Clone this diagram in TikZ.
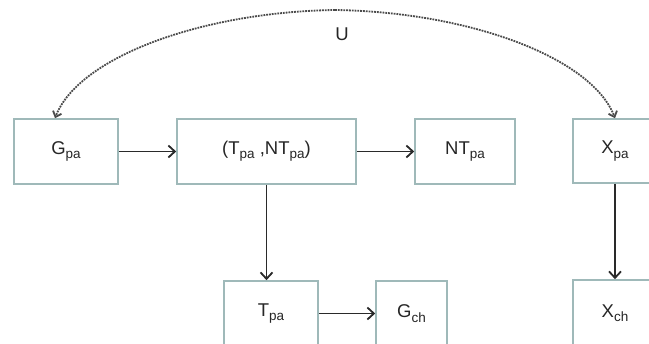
\documentclass[tikz,border=0pt]{standalone}
\usepackage{fontspec}
\setmainfont{Liberation Sans}
\usetikzlibrary{arrows.meta}
\newcommand{\lowidx}[1]{\raisebox{-0.45ex}{\fontsize{13.5}{13.5}\selectfont #1}}
\definecolor{boxc}{HTML}{9FB9B9}
\definecolor{arrc}{HTML}{2A2A2A}
\begin{document}
\begin{tikzpicture}[x=1pt,y=-1pt,
  box/.style={draw=boxc, line width=1.6pt, fill=white, inner sep=0pt,
    font=\fontsize{18.5}{18.5}\selectfont, text=black!85},
  conn/.style={draw=arrc, line width=1.8pt, -{Straight Barb[length=6.5pt,width=12pt]}},
  lat/.style={draw=arrc!85, line width=1.8pt, densely dotted, -{Straight Barb[length=5pt,width=9pt]}},
  lbl/.style={font=\fontsize{18.5}{18.5}\selectfont, text=black!85, inner sep=0pt}]
\useasboundingbox (0,0) rectangle (649,344);
\clip (0,0) rectangle (649,344);
\fill[white] (0,0) rectangle (649,344);
% row 1
\node[box, minimum width=104, minimum height=65] (gpa) at (66,151.5) {G\lowidx{pa}};
\node[box, minimum width=179, minimum height=65] (tnt) at (266.5,151.5) {(T\lowidx{pa} ,NT\lowidx{pa})};
\node[box, minimum width=100, minimum height=65] (ntpa) at (465,151.5) {NT\lowidx{pa}};
\node[box, minimum width=84, minimum height=64] (xpa) at (615,151) {X\lowidx{pa}};
% row 2
\node[box, minimum width=94, minimum height=65] (tpa) at (271,313.5) {T\lowidx{pa}};
\node[box, minimum width=71, minimum height=65] (gch) at (411.5,313.5) {G\lowidx{ch}};
\node[box, minimum width=84, minimum height=66] (xch) at (615,313) {X\lowidx{ch}};
% connectors
\draw[conn] (gpa) -- (tnt);
\draw[conn] (tnt) -- (ntpa);
\draw[conn] (tnt.south) -- (tnt.south |- tpa.north);
\draw[conn] (tpa) -- (gch);
\draw[conn] (xpa.south) -- (xpa.south |- xch.north);
% latent U
\coordinate (ul) at ([xshift=-11pt]gpa.north);
\coordinate (ur) at (xpa.north);
\coordinate (ut) at (335,10);
\draw[lat] (ut) .. controls (200,12) and (78,58) .. (ul);
\draw[lat] (ut) .. controls (470,12) and (592,58) .. (ur);
\node[lbl] (u) at (342,34) {U};
\end{tikzpicture}
\end{document}
